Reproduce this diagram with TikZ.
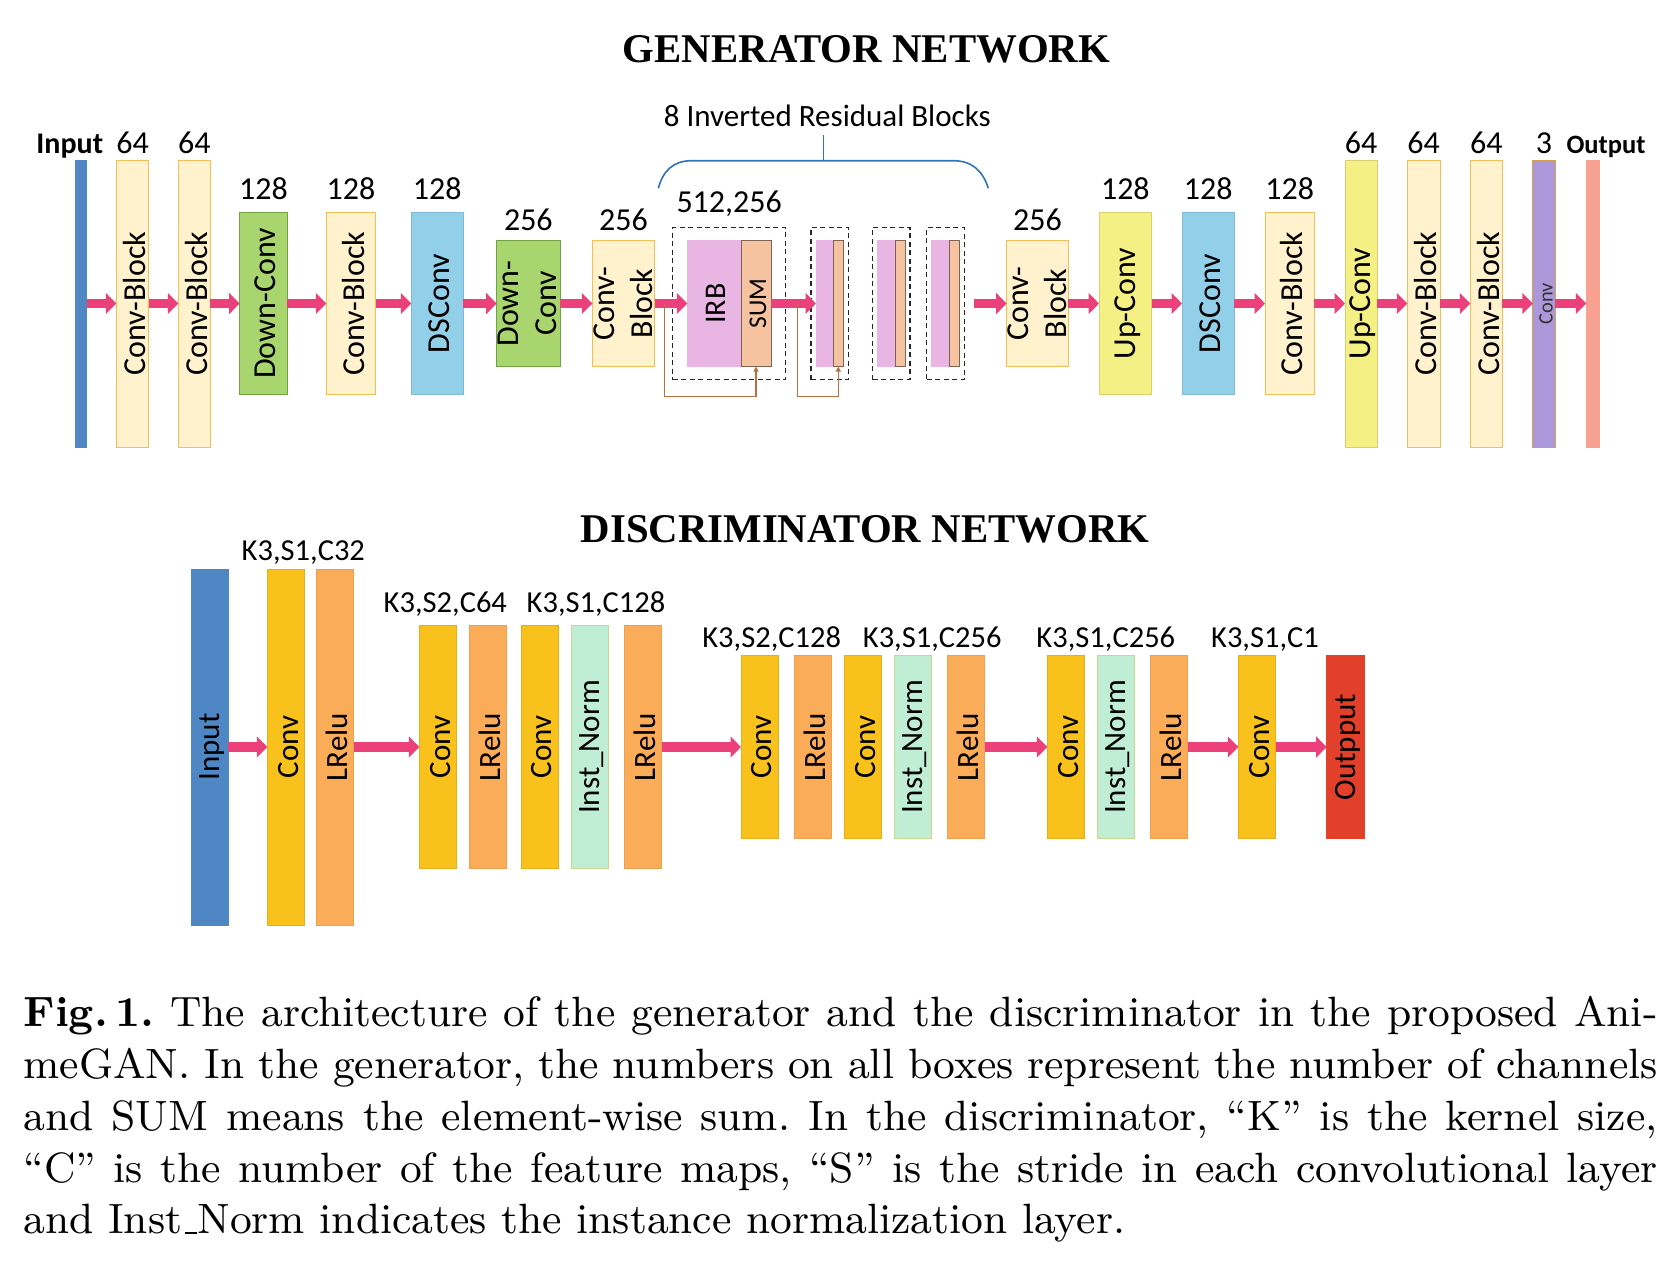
\documentclass[tikz,border=0pt]{standalone}
\usepackage{fontspec}
\usepackage{graphicx}
\usepackage{tikz}
\usetikzlibrary{arrows.meta,positioning,fit}
\newfontfamily\calibri{Carlito}
\newfontfamily\titlefont{Liberation Serif}

\definecolor{inblue}{HTML}{4F87C5}
\definecolor{cbfill}{HTML}{FFF2CC}
\definecolor{cbdraw}{HTML}{F2BE55}
\definecolor{dcfill}{HTML}{A9D56F}
\definecolor{dcdraw}{HTML}{72A246}
\definecolor{dsfill}{HTML}{92CFE8}
\definecolor{dsdraw}{HTML}{82B8DA}
\definecolor{upfill}{HTML}{F4F083}
\definecolor{updraw}{HTML}{D6CF74}
\definecolor{irbfill}{HTML}{E9B5E3}
\definecolor{sumfill}{HTML}{F6C3A0}
\definecolor{sumdraw}{HTML}{7F6455}
\definecolor{cvfill}{HTML}{AA98DA}
\definecolor{cvdraw}{HTML}{D4A24C}
\definecolor{outfill}{HTML}{F9A191}
\definecolor{arrpink}{HTML}{EC407A}
\definecolor{skipc}{HTML}{B9703E}
\definecolor{braceblue}{HTML}{2E75B6}
\definecolor{dconv}{HTML}{F8C11C}
\definecolor{dconvd}{HTML}{E6AE1C}
\definecolor{drelu}{HTML}{FAAC58}
\definecolor{dreld}{HTML}{EDA04E}
\definecolor{dnorm}{HTML}{BFEED5}
\definecolor{dnormd}{HTML}{C8D88C}
\definecolor{dred}{HTML}{E2402A}

\newcommand{\twoline}[2]{\begin{tabular}{@{}c@{}}#1\\#2\end{tabular}}
\newcommand{\lowbar}{\kern.06em\vbox{\hrule width.3em}}

\tikzset{
  bx/.style={rectangle, inner sep=0pt, outer sep=0pt, line width=1pt},
  tall/.style={minimum height=287pt},
  mid/.style={minimum height=181.3pt},
  short/.style={minimum height=126pt},
  dtall/.style={minimum height=356pt},
  dmid/.style={minimum height=242.6pt},
  dshort/.style={minimum height=182.6pt},
  cblk/.style={bx, fill=cbfill, draw=cbdraw},
  dcnv/.style={bx, fill=dcfill, draw=dcdraw},
  dsc/.style={bx, fill=dsfill, draw=dsdraw},
  upc/.style={bx, fill=upfill, draw=updraw},
  dcv/.style={bx, fill=dconv, draw=dconvd, minimum width=37.5pt},
  drl/.style={bx, fill=drelu, draw=dreld, minimum width=37.5pt},
  dnm/.style={bx, fill=dnorm, draw=dnormd, minimum width=37.5pt},
  btext/.style={inner sep=0pt, label distance=0pt, xshift=2pt},
  ftxt/.style 2 args={label={[btext, font=\calibri\fontsize{#1}{38}\selectfont]center:{\rotatebox{90}{#2}}}},
  txt/.style={ftxt={32}{#1}},
  dtxt/.style={ftxt={31}{#1}},
  numtxt/.style={inner sep=0pt, font=\calibri\fontsize{32}{38}\selectfont},
  numT/.style={label={[numtxt, label distance=6.5pt]above:{#1}}},
  numM/.style={label={[numtxt, label distance=12.5pt]above:{#1}}},
  numS/.style={label={[numtxt, label distance=10pt]above:{#1}}},
  lblb/.style={inner sep=0pt, font=\calibri\bfseries\fontsize{#1}{36}\selectfont},
  dlbl/.style={inner sep=0pt, anchor=base, font=\calibri\fontsize{30.5}{36}\selectfont},
  ttl/.style={inner sep=0pt, anchor=base, font=\titlefont\bfseries\fontsize{40.8}{48}\selectfont},
  grp/.style={draw=black!85, line width=1.3pt, dash pattern=on 5pt off 3.5pt,
              inner ysep=13pt, inner xsep=5pt},
  garr/.style={-{Triangle[length=10.5pt, width=20.5pt]}, line width=9.4pt, draw=arrpink},
  skip/.style={-{Triangle[length=5pt, width=5pt]}, line width=1.2pt, draw=skipc},
  brace/.style={draw=braceblue, line width=1.6pt}
}

\begin{document}
\begin{tikzpicture}[x=1pt, y=-1pt]
\useasboundingbox (0,0) rectangle (1679,1261);
\node[ttl] (gtitle) at (866.5,62.3) {GENERATOR NETWORK};
\node[ttl] (dtitle) at (865,542) {DISCRIMINATOR NETWORK};

% generator
\node[bx, fill=inblue, draw=inblue, minimum width=11.7pt, minimum height=287pt]
  (ginp) at (80.85,303.5) {};
\node[lblb=30, anchor=base east] (ginlbl) at ([xshift=22.5pt, yshift=6.5pt]ginp.north) {Input};
\node[cblk, tall, minimum width=32.4pt, right=29.6pt of ginp, numT=64, txt=Conv-Block] (cb1) {};
\node[cblk, tall, minimum width=32pt, right=29.6pt of cb1, numT=64, txt=Conv-Block] (cb2) {};
\node[dcnv, mid, minimum width=47.6pt, right=29.4pt of cb2, numM=128, txt=Down-Conv] (dc1) {};
\node[cblk, mid, minimum width=49.4pt, right=39pt of dc1, numM=128, txt=Conv-Block] (cb3) {};
\node[dsc, mid, minimum width=52pt, right=35.6pt of cb3, numM=128, txt=DSConv] (ds1) {};
\node[dcnv, short, minimum width=63.3pt, right=33.4pt of ds1, numS=256,
  txt={\twoline{Down-}{Conv}}] (dc2) {};
\node[cblk, short, minimum width=62.4pt, right=32.3pt of dc2, numS=256,
  txt={\twoline{Conv-}{Block}}] (cb4) {};
\node[bx, fill=irbfill, draw=irbfill, short, minimum width=53.7pt, right=32.6pt of cb4,
  ftxt={30}{IRB}] (irb) {};
\node[bx, fill=sumfill, draw=sumdraw, short, minimum width=30pt, right=0pt of irb,
  ftxt={25.5}{SUM}] (sum) {};
\node[bx, fill=irbfill, draw=irbfill, short, minimum width=17.3pt, right=45pt of sum] (p2) {};
\node[bx, fill=sumfill, draw=sumdraw, short, minimum width=10pt, right=0pt of p2] (o2) {};
\node[bx, fill=irbfill, draw=irbfill, short, minimum width=17.3pt, right=34.4pt of o2] (p3) {};
\node[bx, fill=sumfill, draw=sumdraw, short, minimum width=10pt, right=0pt of p3] (o3) {};
\node[bx, fill=irbfill, draw=irbfill, short, minimum width=17.6pt, right=26.7pt of o3] (p4) {};
\node[bx, fill=sumfill, draw=sumdraw, short, minimum width=10pt, right=0pt of p4] (o4) {};
\node[grp, inner xsep=14.5pt, fit=(irb)(sum),
  label={[numtxt, label distance=10pt]above:{512,256}}] (g1) {};
\node[grp, fit=(p2)(o2)] (g2) {};
\node[grp, fit=(p3)(o3)] (g3) {};
\node[grp, fit=(p4)(o4)] (g4) {};
\node[cblk, short, minimum width=61.6pt, right=47.4pt of o4, numS=256,
  txt={\twoline{Conv-}{Block}}] (cb5) {};
\node[upc, mid, minimum width=52.7pt, right=30.7pt of cb5, numM=128, txt=Up-Conv] (up1) {};
\node[dsc, mid, minimum width=52.3pt, right=30.3pt of up1, numM=128, txt=DSConv] (ds2) {};
\node[cblk, mid, minimum width=49.3pt, right=30.7pt of ds2, numM=128, txt=Conv-Block] (cb6) {};
\node[upc, tall, minimum width=32.3pt, right=30.7pt of cb6, numT=64, txt=Up-Conv] (up2) {};
\node[cblk, tall, minimum width=32.7pt, right=30pt of up2, numT=64, txt=Conv-Block] (cb7) {};
\node[cblk, tall, minimum width=32pt, right=30.3pt of cb7, numT=64, txt=Conv-Block] (cb8) {};
\node[bx, fill=cvfill, draw=cvdraw, tall, minimum width=22.3pt, right=30.5pt of cb8, numT=3,
  ftxt={20.5}{\color{black!80}Conv}] (cv) {};
\node[bx, fill=outfill, draw=outfill, tall, minimum width=13.4pt, right=31.2pt of cv] (gout) {};
\node[lblb=26.5, anchor=base] (goutlbl) at ([xshift=13pt, yshift=6.5pt]gout.north) {Output};

\draw[garr] (ginp.east) -- (cb1.west);
\draw[garr] (cb1.east) -- (cb2.west);
\draw[garr] (cb2.east) -- (dc1.west);
\draw[garr] (dc1.east) -- (cb3.west);
\draw[garr] (cb3.east) -- (ds1.west);
\draw[garr] (ds1.east) -- (dc2.west);
\draw[garr] (dc2.east) -- (cb4.west);
\draw[garr] (cb4.east) -- (irb.west);
\draw[garr] (sum.east) -- (p2.west);
\draw[garr] ([xshift=8.6pt]g4.east) -- (cb5.west);
\draw[garr] (cb5.east) -- (up1.west);
\draw[garr] (up1.east) -- (ds2.west);
\draw[garr] (ds2.east) -- (cb6.west);
\draw[garr] (cb6.east) -- (up2.west);
\draw[garr] (up2.east) -- (cb7.west);
\draw[garr] (cb7.east) -- (cb8.west);
\draw[garr] (cb8.east) -- (cv.west);
\draw[garr] (cv.east) -- (gout.west);

% skip connections
\coordinate (sk1) at ([yshift=-30pt]sum.south);
\coordinate (sk2) at ([yshift=-30pt]o2.south);
\draw[skip] ([xshift=9.6pt]cb4.east) |- (sk1) -- (sum.south);
\draw[skip] ([xshift=26.7pt]sum.east) |- (sk2) -- (o2.south);

% brace over the residual blocks
\coordinate (brmid) at (823.3,160.7);
\draw[brace] (658.3,188.3) .. controls (663,171) and (673,160.7) .. (691.7,160.7)
  -- (953.3,160.7) .. controls (972,160.7) and (983,171) .. (988.3,188.3);
\draw[brace] (brmid) -- ++(0,-25.7);
\node[numtxt, font=\calibri\fontsize{31}{36}\selectfont, anchor=base] (brlbl)
  at (827.3,126) {8 Inverted Residual Blocks};

% discriminator
\node[bx, fill=inblue, draw=inblue, minimum width=36.6pt, dtall, dtxt=Input] (dinp) at (210,747) {};
\node[dcv, dtall, right=39pt of dinp, dtxt=Conv] (c1) {};
\node[drl, dtall, right=11.5pt of c1, dtxt=LRelu] (l1) {};
\node[dcv, dmid, right=65.5pt of l1, dtxt=Conv] (c2) {};
\node[drl, dmid, right=12.5pt of c2, dtxt=LRelu] (l2) {};
\node[dcv, dmid, right=14.2pt of l2, dtxt=Conv] (c3) {};
\node[dnm, dmid, right=12.8pt of c3, dtxt=Inst\_Norm] (n1) {};
\node[drl, dmid, right=15.5pt of n1, dtxt=LRelu] (l3) {};
\node[dcv, dshort, right=79.2pt of l3, dtxt=Conv] (c4) {};
\node[drl, dshort, right=15.8pt of c4, dtxt=LRelu] (l4) {};
\node[dcv, dshort, right=12.5pt of l4, dtxt=Conv] (c5) {};
\node[dnm, dshort, right=12.5pt of c5, dtxt=Inst\_Norm] (n2) {};
\node[drl, dshort, right=15.5pt of n2, dtxt=LRelu] (l5) {};
\node[dcv, dshort, right=62.5pt of l5, dtxt=Conv] (c6) {};
\node[dnm, dshort, right=12.5pt of c6, dtxt=Inst\_Norm] (n3) {};
\node[drl, dshort, right=15.5pt of n3, dtxt=LRelu] (l6) {};
\node[dcv, dshort, right=50.5pt of l6, dtxt=Conv] (c7) {};
\node[bx, fill=dred, draw=dred, minimum width=37.5pt, dshort, right=50.9pt of c7, dtxt=Outpput] (dout) {};

\node[dlbl] (k1) at (303.3,560.7) {K3,S1,C32};
\node[dlbl] (k2) at (445.3,612.7) {K3,S2,C64};
\node[dlbl] (k3) at (596,612.7) {K3,S1,C128};
\node[dlbl] (k4) at (771.7,647.3) {K3,S2,C128};
\node[dlbl] (k5) at (932.2,647.3) {K3,S1,C256};
\node[dlbl] (k6) at (1105.8,647.3) {K3,S1,C256};
\node[dlbl] (k7) at (1265,647.3) {K3,S1,C1};

\draw[garr] (dinp.east) -- (c1.west);
\draw[garr] (l1.east) -- (c2.west);
\draw[garr] (l3.east) -- (c4.west);
\draw[garr] (l5.east) -- (c6.west);
\draw[garr] (l6.east) -- (c7.west);
\draw[garr] (c7.east) -- (dout.west);

% caption
\node[anchor=base west, inner sep=0pt] (cap) at (23.3,1026.7) {\scalebox{4.708}{\parbox[t]{347.1pt}{%
  \fontsize{9}{11}\selectfont\frenchspacing
  \textbf{Fig.\,1.} The architecture of the generator and the discriminator in the proposed Ani-\linebreak
  meGAN. In the generator, the numbers on all boxes represent the number of channels\linebreak
  and SUM means the element-wise sum. In the discriminator, ``K'' is the kernel size,\linebreak
  ``C'' is the number of the feature maps, ``S'' is the stride in each convolutional layer\linebreak
  and Inst\lowbar Norm indicates the instance normalization layer.}}};
\end{tikzpicture}
\end{document}
